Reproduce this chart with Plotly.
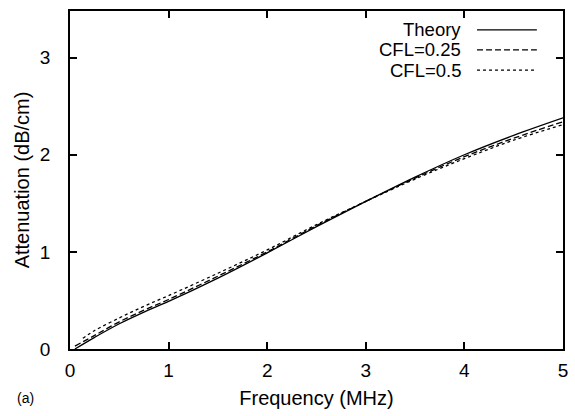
import plotly.graph_objects as go

freq_theory = [0.05, 0.25, 0.5, 0.75, 1.0, 1.5, 2.0, 2.5, 3.0, 3.5, 4.0, 4.5, 5.0]
att_theory = [0.0, 0.12, 0.26, 0.38, 0.49, 0.73, 0.99, 1.26, 1.52, 1.77, 2.0, 2.2, 2.38]

freq_cfl025 = [0.05, 0.25, 0.5, 0.75, 1.0, 1.5, 2.0, 2.5, 3.0, 3.5, 4.0, 4.5, 5.0]
att_cfl025 = [0.03, 0.14, 0.28, 0.40, 0.51, 0.75, 1.00, 1.27, 1.52, 1.76, 1.98, 2.17, 2.34]

freq_cfl05 = [0.13, 0.25, 0.5, 0.75, 1.0, 1.5, 2.0, 2.5, 3.0, 3.5, 4.0, 4.5, 5.0]
att_cfl05 = [0.11, 0.19, 0.32, 0.44, 0.55, 0.78, 1.02, 1.28, 1.52, 1.75, 1.96, 2.15, 2.31]

legend_labels = ["Theory", "CFL=0.25", "CFL=0.5"]
x_ticks = [0, 1, 2, 3, 4, 5]
y_ticks = [0, 1, 2, 3]

FONT = "Liberation Sans, Arial, Helvetica, sans-serif"
dashes = ["solid", "6px,3px", "3px,3px"]

fig = go.Figure()
for xs, ys, name, d in [(freq_theory, att_theory, legend_labels[0], dashes[0]),
                        (freq_cfl025, att_cfl025, legend_labels[1], dashes[1]),
                        (freq_cfl05, att_cfl05, legend_labels[2], dashes[2])]:
    fig.add_trace(go.Scatter(x=xs, y=ys, mode="lines", name=name,
                             line=dict(color="black", width=1.3, dash=d, shape="spline"),
                             showlegend=False))

# custom legend: right-aligned text followed by line sample
legend_y = [0.944, 0.885, 0.825]
for lab, yy, d in zip(legend_labels, legend_y, dashes):
    fig.add_annotation(x=0.797, y=yy, xref="paper", yref="paper", text=lab,
                       showarrow=False, xanchor="right", yanchor="middle",
                       font=dict(family=FONT, size=18.5, color="black"))
    fig.add_shape(type="line", xref="paper", yref="paper", x0=0.8256, x1=0.947,
                  y0=yy, y1=yy, line=dict(color="black", width=1.3, dash=d))

fig.add_annotation(x=-0.111, y=-0.145, xref="paper", yref="paper", text="(a)",
                   showarrow=False, xanchor="left", yanchor="middle",
                   font=dict(family=FONT, size=14, color="black"))

axis_common = dict(showline=True, linecolor="black", linewidth=1.5, mirror="ticks",
                   ticks="inside", ticklen=7, tickcolor="black", tickwidth=1.5,
                   showgrid=False, zeroline=False,
                   tickfont=dict(family=FONT, size=19, color="black"))

fig.update_xaxes(range=[0, 5], tickvals=x_ticks, ticklabelstandoff=3,
                 title=dict(text="Frequency (MHz)", font=dict(family=FONT, size=20, color="black"), standoff=11),
                 **axis_common)
fig.update_yaxes(range=[0, 3.48], tickvals=y_ticks, ticklabelstandoff=14,
                 title=dict(text="Attenuation (dB/cm)", font=dict(family=FONT, size=20, color="black"), standoff=5),
                 **axis_common)

fig.update_layout(width=575, height=416, margin=dict(l=70, r=12, t=11, b=67, autoexpand=False),
                  plot_bgcolor="white", paper_bgcolor="white")

fig.write_html("out.html", config={"displayModeBar": False},
               post_script="document.body.style.margin='0px';")
